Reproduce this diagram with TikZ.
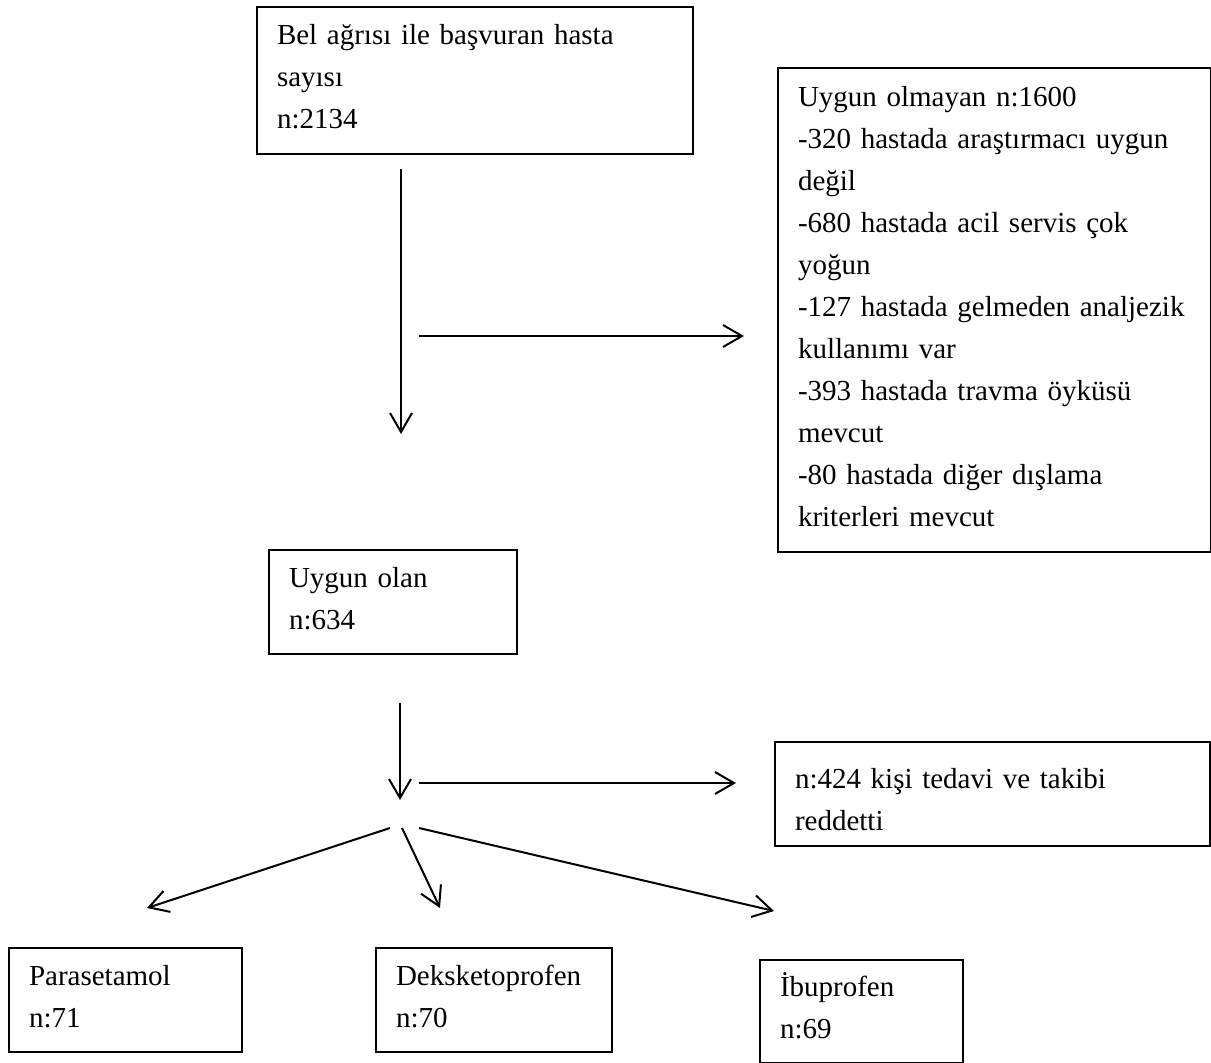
\documentclass[tikz,border=0pt]{standalone}
\usepackage{fontspec}
\setmainfont{Liberation Serif}
\usetikzlibrary{arrows.meta}
\newcommand\lnstrut{\rule[-15pt]{0pt}{42pt}}
\begin{document}
\begin{tikzpicture}[x=1pt,y=-1pt,
  box/.style={draw, line width=2pt, anchor=north west, align=left,
    inner xsep=20pt, inner ysep=0pt, font=\fontsize{29}{42}\selectfont},
  arr/.style={line width=2pt, -{Straight Barb[length=19pt,width=22pt]}}]
\useasboundingbox (0,0) rectangle (1211,1063);
\fill[white] (0,0) rectangle (1211,1063);
% boxes
\node[box, minimum width=436pt, minimum height=147pt, text width=396pt] (b1) at (256,6)
  {\lnstrut Bel ağrısı ile başvuran hasta\\\lnstrut sayısı\\\lnstrut n:2134};
\node[box, minimum width=433pt, minimum height=484pt, text width=393pt] (b2) at (777,67)
  {\lnstrut Uygun olmayan n:1600\\
   \lnstrut -320 hastada araştırmacı uygun\\
   \lnstrut değil\\
   \lnstrut -680 hastada acil servis çok\\
   \lnstrut yoğun\\
   \lnstrut -127 hastada gelmeden analjezik\\
   \lnstrut kullanımı var\\
   \lnstrut -393 hastada travma öyküsü\\
   \lnstrut mevcut\\
   \lnstrut -80 hastada diğer dışlama\\
   \lnstrut kriterleri mevcut};
\node[box, minimum width=248pt, minimum height=104pt, text width=208pt] (b3) at (268,549)
  {\lnstrut Uygun olan\\\lnstrut n:634};
\node[box, minimum width=435pt, minimum height=104pt, text width=395pt] (b4) at (774,741)
  {\rule[-15pt]{0pt}{52pt}n:424 kişi tedavi ve takibi\\\rule[-7pt]{0pt}{34pt}reddetti};
\node[box, minimum width=233pt, minimum height=104pt, text width=193pt] (b5) at (8,947)
  {\lnstrut Parasetamol\\\lnstrut n:71};
\node[box, minimum width=236pt, minimum height=104pt, text width=196pt] (b6) at (375,947)
  {\lnstrut Deksketoprofen\\\lnstrut n:70};
\node[box, minimum width=203pt, minimum height=103pt, text width=163pt] (b7) at (759,959)
  {\lnstrut İbuprofen\\\lnstrut n:69};
% arrow end points
\coordinate (a1s) at (401,169); \coordinate (a1e) at (401,434);
\coordinate (a2s) at (419,336); \coordinate (a2e) at (744,336);
\coordinate (a3s) at (400,703); \coordinate (a3e) at (400,800);
\coordinate (a4s) at (419,783); \coordinate (a4e) at (736,783);
\coordinate (a5s) at (390,828); \coordinate (a5e) at (147,908);
\coordinate (a6s) at (402,828); \coordinate (a6e) at (440,908);
\coordinate (a7s) at (419,828); \coordinate (a7e) at (774,911);
\draw[arr] (a1s) -- (a1e);
\draw[arr] (a2s) -- (a2e);
\draw[arr] (a3s) -- (a3e);
\draw[arr] (a4s) -- (a4e);
\draw[arr] (a5s) -- (a5e);
\draw[arr] (a6s) -- (a6e);
\draw[arr] (a7s) -- (a7e);
\end{tikzpicture}
\end{document}
